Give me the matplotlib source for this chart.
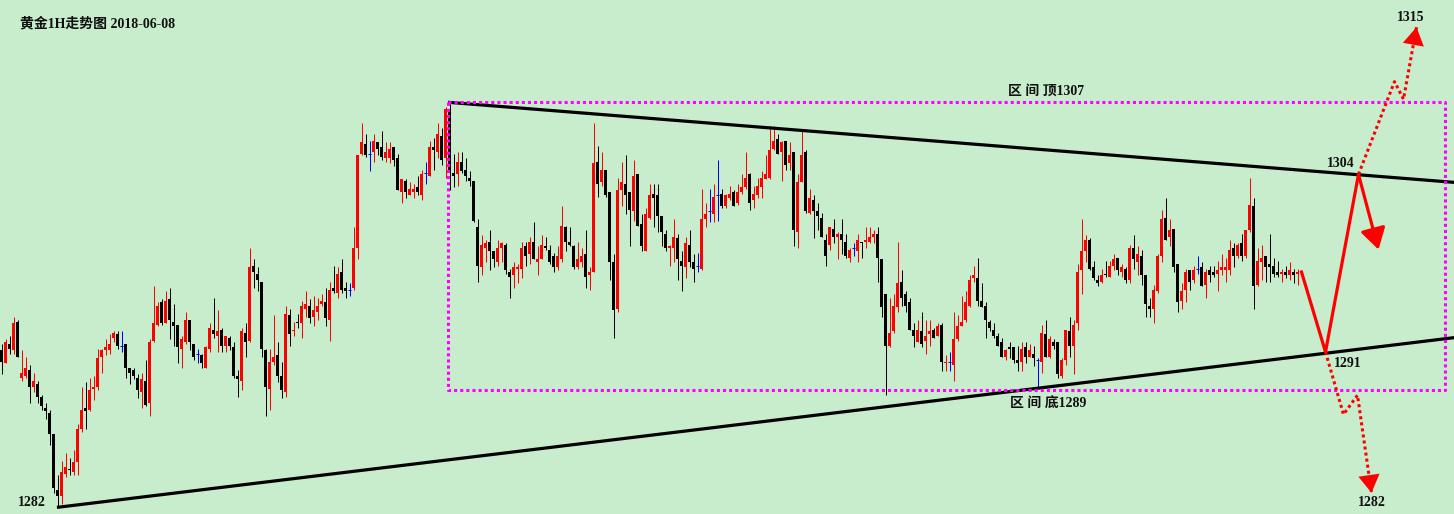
import matplotlib
matplotlib.use("Agg")
import matplotlib.pyplot as plt
import numpy as np

# Gold 1H candles (price units)
opens = [
    1291.5, 1290.7, 1291.9, 1291.5, 1293.3, 1289.8, 1289.9, 1290.3, 1289.2, 1289.4,
    1288.6, 1287.9, 1287.6, 1286.3, 1282.8, 1282.4, 1283.8, 1284.1, 1283.9, 1284.5,
    1286.6, 1287.9, 1287.8, 1289.1, 1289.2, 1291.1, 1291.5, 1291.5, 1292.3, 1292.5,
    1291.8, 1291.9, 1290.4, 1290.3, 1289.8, 1288.9, 1289.6, 1288.2, 1292.1, 1293.1,
    1294.5, 1293.2, 1294.7, 1293.3, 1293.1, 1291.6, 1292.0, 1293.4, 1291.9, 1291.3,
    1291.2, 1290.4, 1291.6, 1292.8, 1292.4, 1292.8, 1291.8, 1292.3, 1291.7, 1289.9,
    1289.6, 1292.6, 1292.1, 1296.8, 1296.3, 1295.8, 1291.5, 1289.1, 1290.8, 1291.2,
    1289.9, 1288.9, 1293.7, 1292.7, 1293.3, 1293.2, 1294.1, 1294.3, 1293.6, 1293.9,
    1294.4, 1294.5, 1293.4, 1295.4, 1295.1, 1296.4, 1295.4, 1295.3, 1295.4, 1297.9,
    1303.8, 1304.4, 1303.8, 1303.9, 1304.5, 1304.2, 1303.5, 1303.5, 1304.2, 1303.5,
    1301.4, 1302.1, 1301.2, 1301.4, 1301.7, 1301.2, 1302.6, 1302.4, 1304.2, 1303.9,
    1304.9, 1303.5, 1306.5, 1302.6, 1302.5, 1303.3, 1302.8, 1302.3, 1302.1, 1299.2,
    1296.7, 1297.9, 1298.3, 1297.7, 1297.0, 1297.9, 1298.1, 1296.4, 1296.2, 1296.6,
    1296.6, 1298.0, 1297.5, 1298.3, 1297.0, 1297.2, 1298.0, 1297.8, 1297.4, 1296.7,
    1297.2, 1299.2, 1298.3, 1298.0, 1296.7, 1297.0, 1297.5, 1296.2, 1296.4, 1303.3,
    1302.0, 1302.8, 1301.4, 1297.0, 1294.1, 1301.5, 1301.9, 1301.4, 1300.2, 1302.5,
    1299.4, 1297.7, 1299.8, 1301.3, 1301.2, 1299.9, 1298.8, 1297.9, 1297.9, 1298.5,
    1297.1, 1296.7, 1298.1, 1297.0, 1296.8, 1296.6, 1299.7, 1300.2, 1300.0, 1301.2,
    1301.3, 1300.5, 1301.0, 1301.4, 1300.7, 1301.4, 1301.7, 1302.5, 1300.9, 1301.2,
    1301.7, 1302.2, 1302.3, 1304.1, 1304.7, 1303.9, 1304.6, 1303.2, 1303.9, 1298.9,
    1302.0, 1303.9, 1300.1, 1300.9, 1300.2, 1299.8, 1298.4, 1298.1, 1299.1, 1298.6,
    1298.8, 1298.3, 1297.3, 1297.9, 1297.7, 1298.3, 1298.3, 1298.3, 1298.6, 1298.8,
    1297.2, 1295.0, 1291.8, 1292.7, 1294.2, 1295.8, 1295.0, 1294.5, 1292.8, 1292.0,
    1292.7, 1292.1, 1292.5, 1292.8, 1292.4, 1293.1, 1290.7, 1290.8, 1290.6, 1292.2,
    1293.0, 1293.4, 1294.3, 1296.0, 1296.0, 1294.6, 1294.3, 1293.3, 1292.8, 1292.4,
    1292.0, 1291.1, 1291.7, 1291.7, 1290.9, 1290.8, 1291.7, 1291.1, 1291.3, 1290.9,
    1290.8, 1292.5, 1291.1, 1292.0, 1292.0, 1289.9, 1290.9, 1292.7, 1291.8, 1293.2,
    1296.5, 1297.7, 1298.4, 1296.7, 1295.9, 1295.8, 1296.3, 1296.1, 1296.8, 1297.3,
    1296.4, 1296.6, 1295.9, 1297.9, 1297.0, 1297.4, 1296.2, 1294.3, 1294.1, 1295.2,
    1297.4, 1299.8, 1298.6, 1299.1, 1296.9, 1294.6, 1295.3, 1296.5, 1295.9, 1296.6,
    1296.7, 1295.6, 1296.5, 1296.4, 1296.3, 1296.5, 1296.5, 1296.5, 1297.9, 1297.4,
    1298.2, 1297.4, 1299.0, 1300.5, 1295.6, 1297.0, 1297.4, 1296.9, 1296.8, 1296.4,
    1296.3, 1296.4, 1296.2, 1296.4, 1296.3,
]
highs = [
    1291.9, 1292.2, 1292.4, 1293.6, 1293.4, 1291.5, 1291.1, 1290.6, 1290.1, 1289.6,
    1288.7, 1288.2, 1287.8, 1286.3, 1283.7, 1284.6, 1285.1, 1284.8, 1285.3, 1286.9,
    1289.2, 1289.5, 1289.8, 1289.9, 1291.6, 1291.6, 1292.2, 1292.5, 1292.7, 1292.7,
    1292.7, 1291.9, 1290.4, 1290.4, 1290.0, 1290.1, 1290.9, 1292.2, 1295.5, 1294.5,
    1294.7, 1295.2, 1295.4, 1294.4, 1293.1, 1292.4, 1293.9, 1293.4, 1291.9, 1291.6,
    1291.3, 1291.8, 1293.2, 1294.8, 1294.0, 1292.9, 1292.4, 1292.4, 1292.0, 1290.3,
    1292.9, 1293.2, 1297.9, 1297.2, 1296.7, 1295.8, 1291.6, 1291.6, 1293.7, 1292.0,
    1290.8, 1294.3, 1294.1, 1293.3, 1293.8, 1294.6, 1295.2, 1294.7, 1294.9, 1294.8,
    1295.0, 1295.4, 1295.8, 1296.8, 1296.7, 1297.2, 1295.8, 1295.7, 1299.2, 1303.7,
    1305.7, 1305.0, 1304.6, 1305.0, 1304.5, 1305.2, 1304.5, 1304.5, 1304.2, 1303.8,
    1302.2, 1302.2, 1302.0, 1301.9, 1302.4, 1302.8, 1303.3, 1304.6, 1304.8, 1305.7,
    1305.4, 1306.7, 1306.9, 1303.8, 1303.9, 1303.9, 1303.5, 1302.7, 1302.1, 1299.7,
    1298.7, 1298.4, 1299.0, 1297.7, 1298.4, 1298.3, 1298.2, 1296.6, 1297.0, 1296.9,
    1298.3, 1298.3, 1298.6, 1299.5, 1298.0, 1298.7, 1298.6, 1298.1, 1297.6, 1298.0,
    1300.5, 1299.3, 1299.2, 1298.1, 1298.3, 1297.9, 1299.0, 1296.7, 1305.7, 1304.3,
    1303.9, 1302.8, 1301.4, 1297.5, 1302.3, 1303.3, 1303.7, 1301.4, 1303.4, 1302.5,
    1300.0, 1300.4, 1301.9, 1301.9, 1301.9, 1299.9, 1299.0, 1298.1, 1299.7, 1298.8,
    1297.7, 1298.6, 1299.0, 1297.5, 1297.6, 1301.6, 1300.7, 1301.6, 1301.9, 1303.4,
    1301.6, 1301.3, 1301.8, 1301.5, 1301.9, 1302.5, 1303.9, 1302.6, 1301.8, 1302.3,
    1302.7, 1303.7, 1305.5, 1305.5, 1305.0, 1304.6, 1304.6, 1304.5, 1303.9, 1302.5,
    1305.2, 1304.0, 1301.6, 1301.2, 1300.7, 1300.1, 1298.8, 1299.2, 1299.7, 1298.9,
    1299.7, 1298.8, 1297.9, 1298.2, 1298.8, 1298.3, 1299.2, 1299.2, 1299.0, 1299.2,
    1297.2, 1295.0, 1294.8, 1295.0, 1298.3, 1296.5, 1295.2, 1294.8, 1293.2, 1293.4,
    1293.9, 1293.4, 1293.4, 1292.9, 1293.2, 1293.2, 1291.2, 1291.4, 1293.9, 1293.7,
    1294.9, 1295.2, 1296.2, 1296.8, 1297.3, 1295.7, 1294.5, 1293.4, 1293.2, 1292.6,
    1292.3, 1291.6, 1292.0, 1291.7, 1291.8, 1292.0, 1292.0, 1291.9, 1291.8, 1291.0,
    1293.1, 1293.4, 1292.4, 1292.2, 1292.0, 1291.0, 1292.8, 1293.6, 1293.4, 1296.9,
    1299.7, 1298.7, 1298.5, 1297.1, 1296.2, 1296.6, 1297.1, 1297.1, 1297.5, 1297.3,
    1296.9, 1296.7, 1298.1, 1298.7, 1298.0, 1297.8, 1296.2, 1294.8, 1295.6, 1297.5,
    1300.3, 1301.0, 1299.7, 1299.1, 1296.9, 1295.7, 1296.6, 1296.5, 1296.8, 1297.4,
    1297.0, 1296.6, 1296.8, 1296.8, 1297.1, 1297.5, 1297.3, 1298.4, 1298.2, 1298.2,
    1298.8, 1299.0, 1302.3, 1301.0, 1297.9, 1298.1, 1297.4, 1298.8, 1297.3, 1297.1,
    1296.6, 1296.8, 1297.0, 1296.6, 1296.6,
]
lows = [
    1290.0, 1290.7, 1291.3, 1291.3, 1291.1, 1289.6, 1289.8, 1288.2, 1288.9, 1288.2,
    1287.8, 1287.2, 1285.6, 1282.6, 1281.8, 1281.9, 1283.6, 1283.7, 1283.7, 1283.7,
    1286.4, 1286.6, 1287.7, 1288.4, 1289.0, 1290.1, 1291.2, 1291.3, 1292.0, 1291.6,
    1291.4, 1289.8, 1289.4, 1289.7, 1288.5, 1287.9, 1288.0, 1287.4, 1292.0, 1293.0,
    1293.1, 1293.2, 1292.2, 1291.8, 1290.7, 1290.4, 1291.9, 1291.5, 1290.9, 1290.7,
    1290.4, 1290.4, 1291.4, 1292.3, 1291.4, 1291.4, 1291.4, 1291.5, 1289.8, 1288.6,
    1289.0, 1291.1, 1292.0, 1295.4, 1295.2, 1291.1, 1287.4, 1287.8, 1290.6, 1289.5,
    1288.5, 1288.6, 1291.8, 1292.4, 1292.9, 1292.3, 1293.6, 1293.2, 1293.0, 1293.4,
    1294.3, 1293.0, 1292.1, 1295.1, 1294.8, 1295.1, 1294.8, 1294.9, 1295.3, 1297.2,
    1303.7, 1303.6, 1302.7, 1303.3, 1303.7, 1303.4, 1303.3, 1303.2, 1303.0, 1301.5,
    1300.7, 1301.0, 1301.2, 1301.0, 1301.2, 1300.9, 1301.9, 1302.4, 1302.8, 1303.5,
    1303.1, 1302.3, 1301.5, 1301.7, 1301.8, 1302.6, 1302.1, 1301.8, 1299.5, 1295.8,
    1296.2, 1297.0, 1296.5, 1296.7, 1296.8, 1297.0, 1296.3, 1294.8, 1295.4, 1295.7,
    1296.0, 1296.8, 1296.9, 1297.2, 1296.2, 1297.2, 1297.8, 1296.9, 1296.4, 1296.5,
    1297.0, 1297.7, 1298.0, 1296.6, 1296.6, 1296.7, 1295.4, 1295.3, 1296.4, 1301.1,
    1301.8, 1301.1, 1295.9, 1292.3, 1293.9, 1300.5, 1300.0, 1298.0, 1299.6, 1299.3,
    1297.7, 1297.7, 1299.7, 1299.2, 1298.9, 1298.0, 1297.7, 1296.8, 1297.0, 1295.9,
    1295.2, 1296.0, 1296.7, 1295.8, 1296.4, 1296.5, 1299.2, 1299.5, 1299.5, 1299.6,
    1300.4, 1300.4, 1300.9, 1300.5, 1300.6, 1301.3, 1301.6, 1300.3, 1300.4, 1301.0,
    1301.0, 1302.2, 1302.2, 1304.0, 1303.8, 1302.1, 1302.8, 1302.8, 1298.0, 1297.9,
    1302.0, 1300.1, 1300.0, 1298.5, 1299.0, 1298.6, 1296.8, 1297.8, 1298.2, 1297.2,
    1297.5, 1297.3, 1297.0, 1297.4, 1297.0, 1297.3, 1297.9, 1298.2, 1298.2, 1295.8,
    1293.6, 1288.7, 1291.7, 1292.6, 1293.9, 1294.3, 1293.9, 1292.8, 1291.7, 1292.0,
    1291.7, 1291.3, 1291.8, 1292.3, 1292.4, 1290.2, 1290.2, 1290.2, 1289.6, 1292.1,
    1293.0, 1293.3, 1294.2, 1295.8, 1294.3, 1294.2, 1292.3, 1292.7, 1292.3, 1291.8,
    1291.1, 1290.9, 1291.0, 1290.7, 1290.2, 1290.2, 1290.7, 1291.1, 1290.5, 1289.2,
    1290.1, 1291.1, 1291.0, 1291.6, 1289.8, 1289.8, 1290.6, 1291.1, 1290.0, 1292.8,
    1295.0, 1297.0, 1296.5, 1295.9, 1295.5, 1295.7, 1296.1, 1296.1, 1296.5, 1296.2,
    1296.1, 1295.7, 1295.7, 1296.6, 1296.2, 1295.6, 1293.6, 1293.6, 1293.2, 1295.1,
    1297.0, 1298.4, 1298.0, 1296.4, 1293.9, 1294.1, 1294.5, 1295.3, 1295.7, 1296.3,
    1295.5, 1294.8, 1295.8, 1296.1, 1295.2, 1296.2, 1295.8, 1296.2, 1296.7, 1297.3,
    1297.1, 1297.3, 1298.9, 1294.1, 1295.5, 1295.9, 1295.8, 1295.8, 1296.1, 1296.1,
    1295.8, 1296.0, 1295.9, 1295.7, 1295.6,
]
closes = [
    1290.8, 1292.0, 1291.6, 1293.2, 1291.1, 1290.1, 1290.4, 1289.2, 1289.6, 1288.6,
    1288.0, 1287.7, 1286.3, 1282.9, 1282.4, 1283.9, 1284.2, 1284.0, 1284.5, 1286.6,
    1287.8, 1287.7, 1289.0, 1289.2, 1291.0, 1291.5, 1291.7, 1291.9, 1292.6, 1291.8,
    1291.8, 1290.4, 1290.1, 1289.9, 1289.0, 1289.7, 1288.1, 1292.0, 1293.2, 1294.3,
    1293.2, 1294.6, 1293.4, 1293.0, 1291.7, 1292.2, 1293.4, 1292.0, 1291.1, 1291.3,
    1290.7, 1291.7, 1292.9, 1292.5, 1292.7, 1291.8, 1292.4, 1291.8, 1289.9, 1289.7,
    1292.7, 1292.0, 1296.7, 1296.4, 1295.9, 1291.6, 1289.2, 1290.8, 1291.1, 1289.9,
    1289.0, 1293.8, 1292.5, 1292.8, 1293.2, 1294.3, 1294.4, 1293.5, 1294.0, 1294.3,
    1294.6, 1293.5, 1295.3, 1295.2, 1296.3, 1295.3, 1295.2, 1295.3, 1297.9, 1303.7,
    1304.5, 1303.7, 1303.8, 1304.6, 1304.1, 1303.6, 1303.9, 1304.1, 1303.4, 1301.5,
    1302.2, 1301.4, 1301.6, 1301.6, 1301.4, 1302.5, 1302.6, 1304.2, 1304.0, 1305.0,
    1303.4, 1306.6, 1302.7, 1302.4, 1303.3, 1302.7, 1302.4, 1302.1, 1299.6, 1296.8,
    1298.1, 1298.2, 1297.7, 1297.2, 1297.9, 1298.2, 1296.5, 1296.1, 1296.7, 1296.7,
    1297.9, 1297.4, 1298.3, 1297.2, 1297.2, 1298.1, 1297.9, 1297.0, 1296.7, 1297.4,
    1299.3, 1298.3, 1298.1, 1296.7, 1297.2, 1297.4, 1296.1, 1296.4, 1303.2, 1301.9,
    1302.8, 1301.2, 1297.0, 1294.0, 1301.5, 1302.0, 1301.2, 1300.3, 1302.4, 1299.3,
    1298.0, 1300.0, 1301.2, 1301.0, 1299.9, 1298.9, 1297.9, 1298.0, 1298.6, 1297.2,
    1296.8, 1298.2, 1297.0, 1296.6, 1296.8, 1299.7, 1300.0, 1300.2, 1301.1, 1301.2,
    1300.5, 1301.2, 1301.3, 1300.5, 1301.4, 1301.7, 1302.3, 1300.7, 1301.3, 1301.8,
    1302.3, 1302.5, 1304.0, 1304.6, 1303.8, 1304.5, 1303.1, 1303.7, 1299.0, 1302.0,
    1303.7, 1300.2, 1301.0, 1300.2, 1299.9, 1298.6, 1297.4, 1299.2, 1298.6, 1298.8,
    1298.4, 1297.4, 1297.8, 1297.9, 1298.4, 1298.2, 1298.4, 1298.6, 1298.8, 1297.3,
    1294.2, 1291.8, 1292.6, 1294.3, 1295.7, 1294.8, 1294.3, 1292.8, 1292.4, 1292.8,
    1291.9, 1292.4, 1292.7, 1292.3, 1293.0, 1290.8, 1290.8, 1290.8, 1292.2, 1293.0,
    1293.3, 1294.5, 1295.9, 1296.2, 1294.6, 1294.2, 1293.4, 1292.9, 1292.4, 1291.8,
    1291.1, 1291.5, 1291.6, 1290.9, 1290.7, 1291.6, 1291.1, 1291.5, 1291.0, 1290.9,
    1292.6, 1291.1, 1292.2, 1291.8, 1290.0, 1290.9, 1292.8, 1291.8, 1293.1, 1296.4,
    1297.7, 1298.4, 1296.6, 1296.0, 1295.7, 1296.2, 1296.2, 1296.8, 1297.2, 1296.5,
    1296.7, 1295.9, 1297.9, 1297.2, 1297.5, 1296.2, 1294.4, 1294.1, 1295.3, 1297.4,
    1299.7, 1298.4, 1299.0, 1296.7, 1294.5, 1295.2, 1296.4, 1295.8, 1296.5, 1296.6,
    1295.5, 1296.4, 1296.2, 1296.2, 1296.5, 1296.7, 1296.7, 1297.8, 1297.4, 1298.1,
    1297.4, 1299.0, 1300.6, 1295.5, 1297.1, 1297.3, 1296.7, 1296.7, 1296.3, 1296.2,
    1296.4, 1296.2, 1296.5, 1296.2, 1296.4,
]

# range box and channel lines
box_x = [111.5, 360.75]
box_y = [1289.0, 1307.0]
upper_x = [112, 363.25]
upper_y = [1307.0, 1302.0]
lower_x = [14.25, 363.25]
lower_y = [1281.7, 1292.3]

# forecast paths
main_x = [325, 331, 339.25, 344.25]
main_y = [1296.4, 1291.4, 1302.5, 1297.8]
up_x = [339.25, 348.25, 350.5, 353.75]
up_y = [1302.5, 1308.3, 1307.2, 1311.7]
down_x = [331, 335.5, 339, 342.5]
down_y = [1291.4, 1287.5, 1288.7, 1282.6]

BG = "#C7EDCC"
FONT = ["Liberation Serif", "Noto Sans CJK SC"]


def arrow_head(ax, x0, y0, x1, y1, lw=0):
    ax.annotate("", xy=(x1, y1), xytext=(x0, y0),
                arrowprops=dict(arrowstyle="-|>,head_length=0.4,head_width=0.24",
                                mutation_scale=32, color="red", lw=lw,
                                shrinkA=0, shrinkB=0), zorder=6)


fig = plt.figure(figsize=(14.54, 5.14), dpi=100, facecolor=BG)
ax = fig.add_axes([0, 0, 1, 1], facecolor=BG)

o = np.array(opens)
h = np.array(highs)
l = np.array(lows)
c = np.array(closes)
x = np.arange(len(o))

# one pixel wicks, three pixel bodies, 4 px per candle
colors = np.where(c > o, "#FF0000", np.where(c < o, "#000000", "#0000FF"))
ax.vlines(x, l, h, colors=colors, lw=0.72, zorder=3)
body = np.maximum(np.abs(c - o), 0.07)
solid = c != o
ax.bar(x[solid], body[solid], bottom=np.minimum(o, c)[solid], width=0.75,
       color=colors[solid], linewidth=0, zorder=4)
doji = ~solid
ax.hlines(o[doji], x[doji] - 0.375, x[doji] + 0.375, colors="#0000FF", lw=0.72, zorder=4)

# channel
ax.plot(upper_x, upper_y, color="black", lw=2.3, zorder=5)
ax.plot(lower_x, lower_y, color="black", lw=2.3, zorder=5)
ax.plot([box_x[0], box_x[1], box_x[1], box_x[0], box_x[0]],
        [box_y[1], box_y[1], box_y[0], box_y[0], box_y[1]],
        color="#FF00FF", lw=2.2, linestyle=(0, (1, 1)), zorder=5)

# forecast
ax.plot(main_x[:3], main_y[:3], color="red", lw=2.3, zorder=6, solid_joinstyle="miter")
arrow_head(ax, main_x[2], main_y[2], main_x[3], main_y[3], lw=2.3)
ax.plot(up_x, up_y, color="red", lw=2.2, linestyle=(0, (1, 1)), zorder=6)
arrow_head(ax, up_x[2], up_y[2], up_x[3], up_y[3])
ax.plot(down_x, down_y, color="red", lw=2.2, linestyle=(0, (1, 1)), zorder=6)
arrow_head(ax, down_x[2], down_y[2], down_x[3], down_y[3])

# labels
kw = dict(family=FONT, fontweight="bold", fontsize=10, color="#111111",
          ha="center", va="center", zorder=7)
ax.text(261.25, 1307.7, "区 间 顶1307", **kw)
ax.text(261.75, 1288.15, "区 间 底1289", **kw)
ax.text(7.5, 1282.0, "1282", **kw)
ax.text(334.75, 1303.2, "1304", **kw)
ax.text(336.5, 1290.7, "1291", **kw)
ax.text(352.25, 1312.3, "1315", **kw)
ax.text(342.5, 1282.0, "1282", **kw)
ax.text(0.0138, 0.955, "黄金1H走势图 2018-06-08", transform=ax.transAxes,
        family=FONT, fontweight="bold", fontsize=10, color="#111111",
        ha="left", va="center")

ax.set_xlim(-0.375, 363.125)
ax.set_ylim(1281.275, 1313.4)
ax.axis("off")

fig.savefig("out.png", dpi=100, facecolor=BG)
